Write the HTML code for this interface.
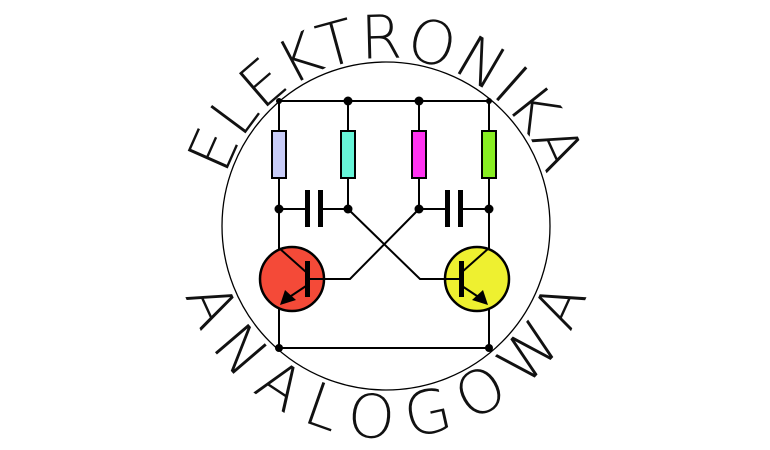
<!DOCTYPE html>
<html><head><meta charset="utf-8"><style>
html,body{margin:0;padding:0;background:#fff;}
svg{display:block;}
text{font-family:"DejaVu Sans","Liberation Sans",sans-serif;font-weight:200;fill:#111;}
</style></head><body>
<svg width="770" height="450" viewBox="0 0 770 450" xmlns="http://www.w3.org/2000/svg">
<defs>
<path id="top" d="M 240.5 310 A 168 168 0 1 1 531.5 310"/>
<path id="bot" d="M 174 226 A 212 212 0 0 0 598 226"/>
</defs>
<circle cx="386" cy="226" r="164" fill="none" stroke="#000" stroke-width="1.3"/>
<text font-size="60"><textPath href="#top" startOffset="50%" text-anchor="middle" textLength="425" lengthAdjust="spacing">ELEKTRONIKA</textPath></text>
<text font-size="60"><textPath href="#bot" startOffset="50%" text-anchor="middle" textLength="525" lengthAdjust="spacing">ANALOGOWA</textPath></text>
<g stroke="#000" stroke-width="2" fill="none">
<line x1="279" y1="101" x2="489" y2="101"/>
<line x1="279" y1="348" x2="489" y2="348"/>
<line x1="279" y1="101" x2="279" y2="348"/>
<line x1="489" y1="101" x2="489" y2="348"/>
<line x1="348" y1="101" x2="348" y2="209"/>
<line x1="419" y1="101" x2="419" y2="209"/>
<line x1="279" y1="209" x2="308" y2="209"/>
<line x1="320" y1="209" x2="348" y2="209"/>
<line x1="419" y1="209" x2="448" y2="209"/>
<line x1="460" y1="209" x2="489" y2="209"/>
<polyline points="348,209 420,279 462,279"/>
<polyline points="419,209 350,279 308,279"/>
</g>
<g stroke="#000" stroke-width="2">
<rect x="272" y="131" width="14" height="47" fill="#c8ccf8"/>
<rect x="341" y="131" width="14" height="47" fill="#66f5d8"/>
<rect x="412" y="131" width="14" height="47" fill="#ff33f0"/>
<rect x="482" y="131" width="14" height="47" fill="#88ee22"/>
</g>
<g fill="#000">
<rect x="305" y="190" width="5" height="37"/><rect x="318" y="190" width="5" height="37"/>
<rect x="445" y="190" width="5" height="37"/><rect x="458" y="190" width="5" height="37"/>
<circle cx="279" cy="101" r="3"/><circle cx="348" cy="101" r="4.5"/><circle cx="419" cy="101" r="4.5"/><circle cx="489" cy="101" r="3"/>
<circle cx="279" cy="209" r="4.5"/><circle cx="348" cy="209" r="4.5"/><circle cx="419" cy="209" r="4.5"/><circle cx="489" cy="209" r="4.5"/>
<circle cx="279" cy="348" r="4"/><circle cx="489" cy="348" r="4"/>
</g>
<circle cx="292" cy="279" r="32" fill="#f44a38" stroke="#000" stroke-width="2.5"/>
<circle cx="477" cy="279" r="32" fill="#eef030" stroke="#000" stroke-width="2.5"/>
<g stroke="#000" stroke-width="2" fill="none">
<line x1="279" y1="248" x2="306" y2="272"/>
<line x1="306" y1="286" x2="288" y2="298"/>
<line x1="308" y1="279" x2="324" y2="279"/>
<line x1="489" y1="248" x2="462" y2="272"/>
<line x1="462" y1="286" x2="480" y2="298"/>
<line x1="446" y1="279" x2="462" y2="279"/>
</g>
<g fill="#000">
<rect x="305" y="261" width="5" height="36"/>
<rect x="459" y="261" width="5" height="36"/>
<polygon points="280,305 285,290 296,300"/>
<polygon points="488,305 483,290 472,300"/>
</g>
</svg>
</body></html>
